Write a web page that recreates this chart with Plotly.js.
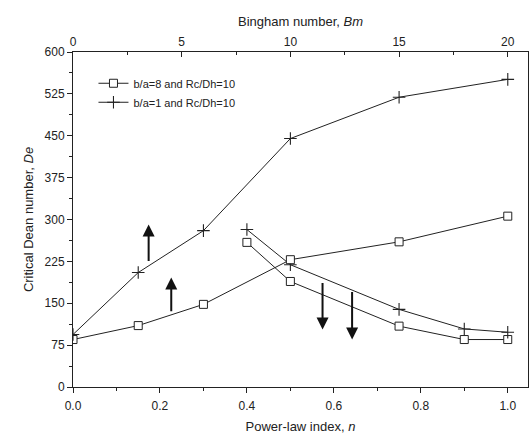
<!DOCTYPE html>
<html>
<head>
<meta charset="utf-8">
<script src="https://cdn.plot.ly/plotly-3.0.1.min.js"></script>
<style>html,body{margin:0;padding:0;background:#fff;}#chart{width:531px;height:442px;}</style>
</head>
<body>
<div id="chart"></div>
<script>
// Increasing curves plotted against the Bingham number (top axis)
const bmValues = [0, 3, 6, 10, 15, 20];
const squareVsBm = [85, 110, 148, 228, 260, 306];
const plusVsBm = [94, 205, 280, 445, 519, 551];

// Decreasing curves plotted against the power-law index (bottom axis)
const nValues = [0.4, 0.5, 0.75, 0.9, 1.0];
const squareVsN = [259, 189, 109, 85, 85];
const plusVsN = [282, 219, 139, 104, 98];

const seriesNames = ["b/a=8 and Rc/Dh=10", "b/a=1 and Rc/Dh=10"];

const lineStyle = {color: "#222", width: 1};
const squareMarker = {symbol: "square", size: 8, color: "#fff", line: {width: 1, color: "#222"}};
const plusMarker = {symbol: "cross-thin-open", size: 9, color: "#222", line: {width: 1.1, color: "#222"}};

const traces = [
  {x: bmValues, y: squareVsBm, xaxis: "x2", yaxis: "y", mode: "lines+markers",
   name: seriesNames[0], legendgroup: "sq", showlegend: true, line: lineStyle, marker: squareMarker},
  {x: bmValues, y: plusVsBm, xaxis: "x2", yaxis: "y", mode: "lines+markers",
   name: seriesNames[1], legendgroup: "pl", showlegend: true, line: lineStyle, marker: plusMarker},
  {x: nValues, y: squareVsN, xaxis: "x", yaxis: "y", mode: "lines+markers",
   name: seriesNames[0], legendgroup: "sq", showlegend: false, line: lineStyle, marker: squareMarker},
  {x: nValues, y: plusVsN, xaxis: "x", yaxis: "y", mode: "lines+markers",
   name: seriesNames[1], legendgroup: "pl", showlegend: false, line: lineStyle, marker: plusMarker}
];

// Arrow annotations: [x, tailY, tipY] in bottom-axis/left-axis units
const arrows = [[0.174, 223, 291], [0.226, 133, 196], [0.574, 189, 103], [0.642, 173, 85]];
const annotations = arrows.map(a => ({
  x: a[0], y: a[2], ax: a[0], ay: a[1], xref: "x", yref: "y", axref: "x", ayref: "y",
  showarrow: true, arrowhead: 2, arrowsize: 1.2, arrowwidth: 2, arrowcolor: "#111", text: ""
}));

const fontFam = "Liberation Sans, Arial, sans-serif";
const layout = {
  width: 531, height: 442,
  margin: {l: 73, r: 3, t: 52, b: 55},
  paper_bgcolor: "#fff", plot_bgcolor: "#fff",
  font: {family: fontFam, size: 12, color: "#222"},
  showlegend: true,
  legend: {x: 0.045, y: 0.95, xanchor: "left", yanchor: "top", bgcolor: "rgba(0,0,0,0)",
           font: {size: 11, color: "#222"}, tracegroupgap: 0, itemwidth: 30},
  xaxis: {range: [0, 1.0466], dtick: 0.2, tick0: 0, tickformat: ".1f",
          ticks: "outside", ticklen: 5, tickwidth: 1, tickcolor: "#222", ticklabelstandoff: 3,
          minor: {dtick: 0.1, ticks: "outside", ticklen: 3, tickcolor: "#222"},
          showline: true, linecolor: "#222", linewidth: 1, showgrid: false, zeroline: false,
          title: {text: "Power-law index, <i>n</i>", font: {size: 13}, standoff: 9}},
  xaxis2: {range: [0, 20.93], overlaying: "x", side: "top", dtick: 5, tick0: 0,
           ticks: "inside", ticklen: 5, tickwidth: 1, tickcolor: "#222",
           minor: {dtick: 2.5, ticks: "inside", ticklen: 3, tickcolor: "#222"},
           showline: true, linecolor: "#222", linewidth: 1, showgrid: false, zeroline: false,
           title: {text: "Bingham number, <i>Bm</i>", font: {size: 13}, standoff: 5}},
  yaxis: {range: [0, 600], dtick: 75, tick0: 0,
          ticks: "outside", ticklen: 5, tickwidth: 1, tickcolor: "#222",
          minor: {dtick: 37.5, ticks: "outside", ticklen: 3, tickcolor: "#222"},
          showline: true, linecolor: "#222", linewidth: 1, mirror: true, showgrid: false, zeroline: false,
          title: {text: "Critical Dean number, <i>De</i>", font: {size: 13}, standoff: 8}},
  annotations: annotations
};

Plotly.newPlot("chart", traces, layout, {displayModeBar: false, staticPlot: true});
</script>
</body>
</html>
